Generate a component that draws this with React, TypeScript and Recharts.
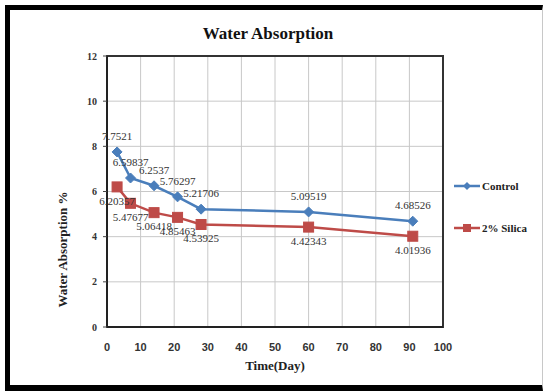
import { LineChart, Line, XAxis, YAxis, CartesianGrid, LabelList, ReferenceArea } from "recharts";

const days = [3, 7, 14, 21, 28, 60, 91];
const control = [7.7521, 6.59837, 6.2537, 5.76297, 5.21706, 5.09519, 4.68526];
const silica = [6.20357, 5.47677, 5.06418, 4.85463, 4.53925, 4.42343, 4.01936];
const xTicks = [0, 10, 20, 30, 40, 50, 60, 70, 80, 90, 100];
const yTicks = [0, 2, 4, 6, 8, 10, 12];

const data = days.map((d, i) => ({ day: d, Control: control[i], Silica: silica[i] }));

const BLUE = "#4a7ebb";
const RED = "#be4b48";
const serif = "'Liberation Serif', 'Times New Roman', serif";

// 菱形标记
const Diamond = (p: any) => {
  const { cx, cy } = p;
  if (cx == null || cy == null) return null;
  return <path d={`M${cx},${cy - 5}L${cx + 5},${cy}L${cx},${cy + 5}L${cx - 5},${cy}Z`} fill={BLUE} stroke={BLUE} />;
};
const Square = (p: any) => {
  const { cx, cy } = p;
  if (cx == null || cy == null) return null;
  return <rect x={cx - 5} y={cy - 5} width={10} height={10} fill={RED} stroke={RED} />;
};

function LegendBox() {
  const items = [
    { name: "Control", color: BLUE, shape: "d" },
    { name: "2% Silica", color: RED, shape: "s" },
  ];
  return (
    <svg width={95} height={60}>
      {items.map((it, i) => {
        const y = 10 + i * 42;
        return (
          <g key={it.name}>
            <line x1={2} x2={28} y1={y} y2={y} stroke={it.color} strokeWidth={2.5} />
            {it.shape === "d" ? (
              <path d={`M15,${y - 4}L19,${y}L15,${y + 4}L11,${y}Z`} fill={it.color} />
            ) : (
              <rect x={11} y={y - 4} width={8} height={8} fill={it.color} />
            )}
            <text x={30} y={y + 4} fontFamily={serif} fontWeight="bold" fontSize={11} fill="#222">
              {it.name}
            </text>
          </g>
        );
      })}
    </svg>
  );
}

export default function App() {
  return (
    <div style={{ position: "absolute", left: 0, top: 0, width: 548, height: 391, background: "#fff", overflow: "hidden" }}>
      <div
        style={{
          position: "absolute",
          left: 5,
          top: 5,
          width: 538,
          height: 386,
          borderLeft: "5px solid #000",
          borderTop: "5px solid #000",
          borderBottom: "6px solid #000",
          borderRight: "1px solid #c8c8c8",
          boxSizing: "border-box",
          pointerEvents: "none",
          zIndex: 2,
        }}
      />
      <div
        style={{
          position: "absolute",
          left: 0,
          width: 548,
          top: 24,
          textAlign: "center",
          fontFamily: serif,
          fontWeight: "bold",
          fontSize: 17,
          color: "#111",
          paddingRight: 12,
          boxSizing: "border-box",
        }}
      >
        Water Absorption
      </div>
      <div style={{ position: "absolute", left: 0, top: 0 }}>
        <LineChart width={548} height={391} data={data} margin={{ top: 56, right: 105, bottom: 34, left: 67 }}>
          <CartesianGrid stroke="#c8c8c8" strokeWidth={1} />
          <XAxis
            dataKey="day"
            type="number"
            domain={[0, 100]}
            ticks={xTicks}
            interval={0}
            height={30}
            axisLine={{ stroke: "#222", strokeWidth: 2 }}
            tickLine={false}
            tick={{ fontFamily: "'Liberation Sans', Arial, sans-serif", fontWeight: "bold", fontSize: 11, fill: "#333" }}
            tickMargin={10}
            label={{ value: "Time(Day)", position: "bottom", offset: 4, fontFamily: serif, fontWeight: "bold", fontSize: 13, fill: "#222" }}
          />
          <YAxis
            type="number"
            domain={[0, 12]}
            ticks={yTicks}
            interval={0}
            width={40}
            axisLine={{ stroke: "#222", strokeWidth: 2 }}
            tickLine={{ stroke: "#444" }}
            tickSize={4}
            tick={{ fontFamily: serif, fontWeight: "bold", fontSize: 10, fill: "#333" }}
            tickMargin={6}
            label={{ value: "Water Absorption %", angle: -90, position: "left", offset: 5, fontFamily: serif, fontWeight: "bold", fontSize: 13, fill: "#222" }}
          />
          <ReferenceArea x1={0} x2={100} y1={0} y2={12} fill="none" stroke="#333" strokeWidth={2} />
          <Line
            dataKey="Control"
            name="Control"
            stroke={BLUE}
            strokeWidth={2.5}
            dot={<Diamond />}
            isAnimationActive={false}
          >
            <LabelList dataKey="Control" position="top" offset={12} fontFamily={serif} fontSize={11} fill="#333" />
          </Line>
          <Line
            dataKey="Silica"
            name="2% Silica"
            stroke={RED}
            strokeWidth={2.5}
            dot={<Square />}
            isAnimationActive={false}
          >
            <LabelList dataKey="Silica" position="bottom" offset={10} fontFamily={serif} fontSize={11} fill="#333" />
          </Line>
        </LineChart>
      </div>
      <div style={{ position: "absolute", left: 452, top: 176 }}>
        <LegendBox />
      </div>
    </div>
  );
}
